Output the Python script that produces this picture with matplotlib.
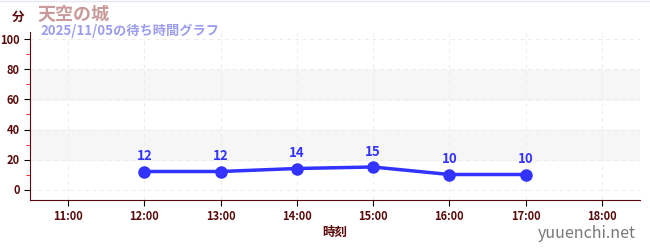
import matplotlib
matplotlib.use("Agg")
import matplotlib.pyplot as plt
from matplotlib.ticker import MultipleLocator

plt.rcParams['font.family'] = ['Noto Sans CJK JP', 'DejaVu Sans']

# data
hours = [12, 13, 14, 15, 16, 17]
waits = [12, 12, 14, 15, 10, 10]
tick_hours = [11, 12, 13, 14, 15, 16, 17, 18]
tick_labels = ["11:00", "12:00", "13:00", "14:00", "15:00", "16:00", "17:00", "18:00"]

axis_col = "#5a0a0a"
line_col = "#3333ff"

fig = plt.figure(figsize=(6.5, 2.5), dpi=100)
ax = fig.add_axes([30 / 650, 50 / 250, 610 / 650, 168 / 250])

ax.set_xlim(10.5, 18.5)
ax.set_ylim(-7, 105)

# alternating bands
for lo in (20, 60):
    ax.axhspan(lo, lo + 20, color="#f6f6f6", zorder=0)

ax.grid(True, which="major", color="#ececec", linestyle=(0, (4, 4)), linewidth=0.7)
ax.set_axisbelow(True)

ax.plot(hours, waits, color=line_col, linewidth=2.5, marker="o", markersize=8, zorder=3)
for h, w in zip(hours, waits):
    ax.annotate(str(w), (h, w), xytext=(0, 6), textcoords="offset points",
                ha="center", va="bottom", color=line_col, fontsize=9.5, fontweight="bold")

ax.set_xticks(tick_hours)
ax.set_xticklabels(tick_labels)
ax.set_yticks([0, 20, 40, 60, 80, 100])
ax.yaxis.set_minor_locator(MultipleLocator(10))
ax.tick_params(axis="y", which="minor", length=3, color="red")
ax.tick_params(axis="both", which="major", length=4, color="black",
               labelsize=8, labelcolor=axis_col)
for lab in ax.get_xticklabels() + ax.get_yticklabels():
    lab.set_fontweight("bold")

for s in ("top", "right"):
    ax.spines[s].set_visible(False)
ax.spines["left"].set_color(axis_col)
ax.spines["bottom"].set_color(axis_col)

ax.set_xlabel("時刻", fontsize=9, fontweight="bold", color=axis_col, labelpad=2)

fig.text(12 / 650, 1 - 17 / 250, "分", fontsize=9, fontweight="bold", color=axis_col, va="center")
fig.text(37 / 650, 1 - 14 / 250, "天空の城", fontsize=13, fontweight="bold", color="#c99a9a", va="center")
fig.text(40 / 650, 1 - 31 / 250, "2025/11/05の待ち時間グラフ", fontsize=9.5, fontweight="bold",
         color="#9d9df0", va="center")
fig.text(636 / 650, 1 - 234 / 250, "yuuenchi.net", fontsize=11.5, color="#777777", ha="right", va="center")
fig.add_artist(plt.Line2D([0, 1], [0.998, 0.998], color="#e6e6f5", linewidth=1))

fig.savefig("out.png", dpi=100)
